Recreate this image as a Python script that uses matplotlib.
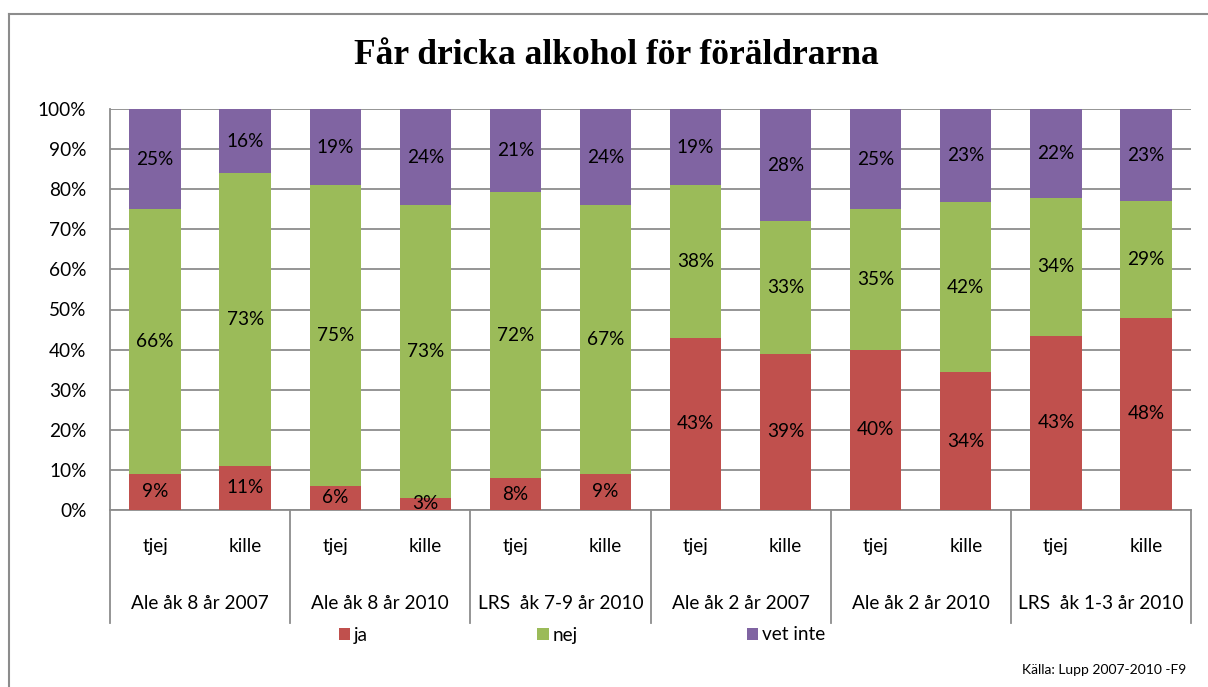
import matplotlib.pyplot as plt
import numpy as np
from matplotlib.lines import Line2D

# data (percent)
groups = ['Ale åk 8 år 2007', 'Ale åk 8 år 2010', 'LRS  åk 7-9 år 2010',
          'Ale åk 2 år 2007', 'Ale åk 2 år 2010', 'LRS  åk 1-3 år 2010']
genders = ['tjej', 'kille']
series_names = ['ja', 'nej', 'vet inte']
ja = [9, 11, 6, 3, 8, 9, 43, 39, 40, 34, 43, 48]
nej = [66, 73, 75, 73, 72, 67, 38, 33, 35, 42, 34, 29]
vet_inte = [25, 16, 19, 24, 21, 24, 19, 28, 25, 23, 22, 23]

colors = ['#C0504D', '#9BBB59', '#8064A2']
grid_col = '#8C8C8C'
fs = 13.7
plt.rcParams['font.family'] = ['Lato', 'DejaVu Sans']

W, H = 1208, 687
fig = plt.figure(figsize=(W / 100, H / 100), dpi=100)
ax = fig.add_axes([110 / W, 1 - 510 / H, 1081 / W, 401 / H])

values = np.array([ja, nej, vet_inte], dtype=float)
shares = values / values.sum(axis=0) * 100  # 100% stacked
x = np.arange(len(ja))
bottom = np.zeros(len(ja))
for name, vals, raw, col in zip(series_names, shares, values, colors):
    bars = ax.bar(x, vals, width=0.57, bottom=bottom, color=col, label=name,
                  zorder=3)
    for b, r in zip(bars, raw):
        ax.text(b.get_x() + b.get_width() / 2, b.get_y() + b.get_height() / 2,
                f'{int(r)}%', ha='center', va='center', fontsize=fs,
                color='black', zorder=4)
    bottom += vals

ax.set_xlim(-0.5, len(ja) - 0.5)
ax.set_ylim(0, 100)
ax.set_yticks(np.arange(0, 101, 10))
ax.set_yticklabels([f'{v}%' for v in range(0, 101, 10)], fontsize=fs)
ax.yaxis.grid(True, color=grid_col, linewidth=1.3, zorder=0)
ax.tick_params(axis='y', length=0, pad=17)
ax.tick_params(axis='x', length=0, labelbottom=False)
for side in ['top', 'right']:
    ax.spines[side].set_visible(False)
for side in ['left', 'bottom']:
    ax.spines[side].set_color(grid_col)
    ax.spines[side].set_linewidth(1.3)

# two-level category axis
trans = ax.get_xaxis_transform()
for i in range(len(ja)):
    ax.text(i, -0.092, genders[i % 2], transform=trans, ha='center',
            va='center', fontsize=fs)
for g, name in enumerate(groups):
    ax.text(2 * g + 0.5, -0.232, name, transform=trans, ha='center',
            va='center', fontsize=fs)
for xs in np.arange(-0.5, len(ja), 2):
    ax.add_line(Line2D([xs, xs], [0, -0.282], transform=trans, color=grid_col,
                       linewidth=1.3, clip_on=False))

fig.text(616 / W, 1 - 55 / H, 'Får dricka alkohol för föräldrarna',
         ha='center', va='center', fontsize=25.5, fontweight='bold',
         family='Liberation Serif')

fig.legend(loc='center', bbox_to_anchor=(582 / W, 1 - 635 / H), ncol=3,
           frameon=False, fontsize=fs, handlelength=0.6, handleheight=0.6,
           handletextpad=0.2, columnspacing=8.9)

fig.text(1186 / W, 1 - 670 / H, 'Källa: Lupp 2007-2010 -F9', ha='right',
         va='center', fontsize=10)

# outer chart border (top and left visible)
fig.add_artist(Line2D([9 / W, 1], [1 - 14 / H, 1 - 14 / H], color=grid_col,
                      linewidth=1.5))
fig.add_artist(Line2D([9 / W, 9 / W], [0, 1 - 14 / H], color=grid_col,
                      linewidth=1.5))

fig.savefig('out.png', dpi=100)
